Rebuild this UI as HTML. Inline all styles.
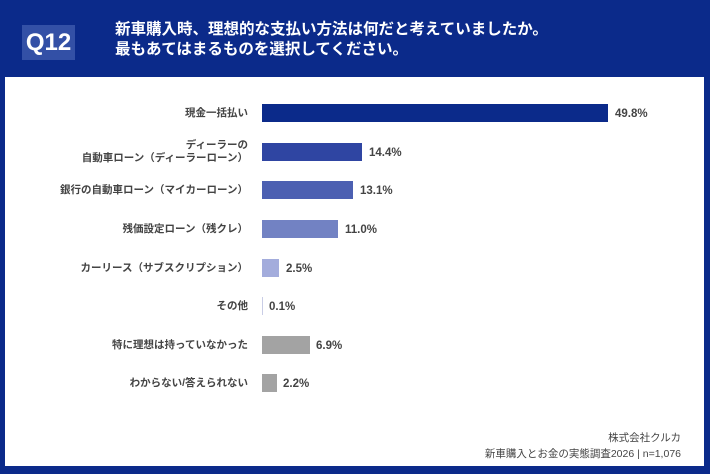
<!DOCTYPE html>
<html><head><meta charset="utf-8"><style>
body{margin:0;width:710px;height:474px;background:#0b2a8a;position:relative;overflow:hidden;font-family:"Liberation Sans","Noto Sans CJK JP",sans-serif;}
.q{position:absolute;left:22px;top:25px;width:53px;height:35px;background:#3350a6;color:#fff;font-weight:bold;font-size:24px;line-height:35px;text-align:center;}
.t{position:absolute;left:115px;top:20px;color:#fff;font-weight:bold;font-size:15.5px;line-height:20px;white-space:nowrap;}
.p{position:absolute;left:5px;top:77px;width:699px;height:389px;background:#fff;}
.lab{position:absolute;right:462px;font-size:10.5px;color:#444;font-weight:bold;text-align:right;line-height:13px;white-space:nowrap;}
.bar{position:absolute;left:262px;height:18px;}
.v{position:absolute;font-size:11.5px;color:#444;font-weight:bold;}
.f{position:absolute;right:29px;text-align:right;font-size:10.5px;color:#444;line-height:16px;}
</style></head><body>
<div class="q">Q12</div>
<div class="t">新車購入時、理想的な支払い方法は何だと考えていましたか。<br>最もあてはまるものを選択してください。</div>
<div class="p"></div>

<div class="lab" style="top:107px">現金一括払い</div>
<div class="bar" style="top:104px;width:346px;background:#0b2a8a"></div>
<div class="v" style="left:615px;top:108px">49.8%</div>

<div class="lab" style="top:139px">ディーラーの<br>自動車ローン（ディーラーローン）</div>
<div class="bar" style="top:143px;width:100px;background:#2f45a2"></div>
<div class="v" style="left:369px;top:147px">14.4%</div>

<div class="lab" style="top:184px">銀行の自動車ローン（マイカーローン）</div>
<div class="bar" style="top:181px;width:91px;background:#4c60b2"></div>
<div class="v" style="left:360px;top:185px">13.1%</div>

<div class="lab" style="top:223px">残価設定ローン（残クレ）</div>
<div class="bar" style="top:220px;width:76px;background:#7282c3"></div>
<div class="v" style="left:345px;top:224px">11.0%</div>

<div class="lab" style="top:262px">カーリース（サブスクリプション）</div>
<div class="bar" style="top:259px;width:17px;background:#a3acdc"></div>
<div class="v" style="left:286px;top:263px">2.5%</div>

<div class="lab" style="top:300px">その他</div>
<div class="bar" style="top:297px;width:1px;background:#c9cde6"></div>
<div class="v" style="left:269px;top:301px">0.1%</div>

<div class="lab" style="top:339px">特に理想は持っていなかった</div>
<div class="bar" style="top:336px;width:48px;background:#a3a3a3"></div>
<div class="v" style="left:316px;top:340px">6.9%</div>

<div class="lab" style="top:377px">わからない/答えられない</div>
<div class="bar" style="top:374px;width:15px;background:#a3a3a3"></div>
<div class="v" style="left:283px;top:378px">2.2%</div>

<div class="f" style="top:430px">株式会社クルカ<br>新車購入とお金の実態調査2026 | n=1,076</div>
</body></html>
